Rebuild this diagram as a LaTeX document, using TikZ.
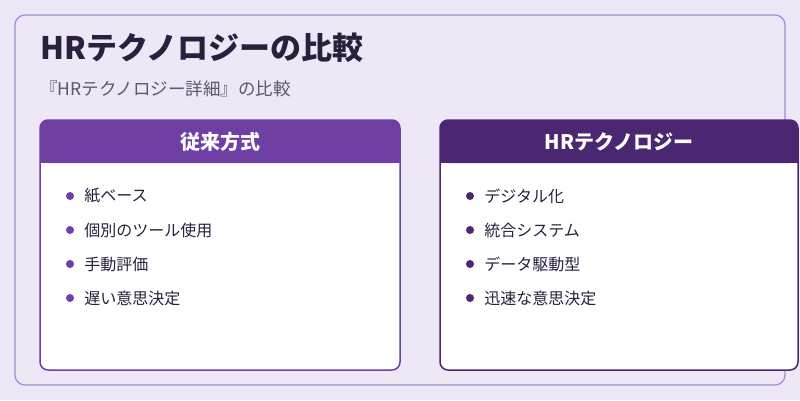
\documentclass[tikz,border=0pt]{standalone}
\usepackage{fontspec}
\setmainfont{Noto Sans CJK JP}
\usetikzlibrary{positioning}
\definecolor{bgcol}{HTML}{EEE7F5}
\definecolor{framecol}{HTML}{A58BD3}
\definecolor{leftcol}{HTML}{6E40A3}
\definecolor{rightcol}{HTML}{4B2772}
\definecolor{textcol}{HTML}{2A1F3D}
\definecolor{subcol}{HTML}{5E5470}
\tikzset{
  card/.style = {draw=#1, line width=1.5pt, fill=white, rounded corners=8pt},
  head/.style = {fill=#1, rounded corners=8pt},
  headtext/.style = {text=white, font=\bfseries\fontsize{20}{24}\selectfont},
  item/.style = {anchor=west, text=textcol, font=\fontsize{16}{19}\selectfont, inner sep=0pt},
  dot/.style = {circle, inner sep=0pt, minimum size=8pt}
}
\begin{document}
\begin{tikzpicture}[x=1pt,y=-1pt]
  \fill[bgcol] (0,0) rectangle (800,400);
  \useasboundingbox (0,0) rectangle (800,400);
  \draw[framecol, line width=1.2pt, rounded corners=10pt] (15,15) rectangle (785,385);

  % Title
  \node[anchor=west, inner sep=0pt, text=textcol, font=\bfseries\fontsize{31}{36}\selectfont] (title) at (40,48) {HRテクノロジーの比較};
  \node[anchor=west, inner sep=0pt, text=subcol, font=\fontsize{17.5}{21}\selectfont] (sub) at (40,89) {『HRテクノロジー詳細』の比較};

  % Left card
  \draw[card=leftcol] (40,120) rectangle (400,370);
  \fill[head=leftcol] (40,120) rectangle (400,163);
  \fill[leftcol] (40,150) rectangle (400,163);
  \node[headtext] (lhead) at (220,142) {従来方式};

  % Right card
  \draw[card=rightcol] (440,120) rectangle (798,370);
  \fill[head=rightcol] (440,120) rectangle (798,163);
  \fill[rightcol] (440,150) rectangle (798,163);
  \node[headtext] (rhead) at (619,142) {HRテクノロジー};

  % Items
  \foreach \t [count=\i] in {紙ベース, 個別のツール使用, 手動評価, 遅い意思決定} {
    \node[dot, fill=leftcol] (ld\i) at (70,162+34*\i) {};
    \node[item, right=10pt of ld\i] (li\i) {\t};
  }
  \foreach \t [count=\i] in {デジタル化, 統合システム, データ駆動型, 迅速な意思決定} {
    \node[dot, fill=rightcol] (rd\i) at (470,162+34*\i) {};
    \node[item, right=10pt of rd\i] (ri\i) {\t};
  }
\end{tikzpicture}
\end{document}
